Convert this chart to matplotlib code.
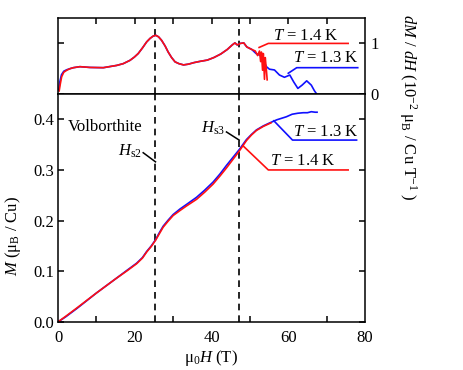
import matplotlib
matplotlib.use('Agg')
import matplotlib.pyplot as plt

plt.rcParams['font.family'] = 'Liberation Serif'
plt.rcParams['mathtext.fontset'] = 'custom'
plt.rcParams['mathtext.rm'] = 'Liberation Serif'
plt.rcParams['mathtext.it'] = 'Liberation Serif:italic'
plt.rcParams['font.size'] = 12

#magnetization curves
h_m13 = [0, 2, 5, 10, 15, 18, 20.5, 22, 23.1, 24.3, 25.4, 26.4, 27.4, 28.7, 30, 31.8,
         33.5, 36.1, 38.2, 40.4, 42.2, 43.9, 45.6, 47.2, 49.1, 50.4, 51.7, 53.5, 55.2,
         57, 59.5, 61, 62.5, 63.9, 65, 66, 67, 67.5]
m13 = [0, 0.010, 0.027, 0.057, 0.085, 0.102, 0.116, 0.127, 0.139, 0.150, 0.162, 0.176,
       0.189, 0.201, 0.212, 0.223, 0.232, 0.246, 0.260, 0.276, 0.292, 0.309, 0.325,
       0.340, 0.360, 0.370, 0.379, 0.387, 0.393, 0.399, 0.405, 0.410, 0.412, 0.413,
       0.413, 0.415, 0.414, 0.414]
h_m14 = [0, 2, 5, 10, 15, 18, 20.5, 22, 23.1, 24.3, 25.4, 26.4, 27.4, 28.7, 30, 31.8,
         33.5, 36.1, 38.2, 40.4, 42.2, 43.9, 45.6, 47.2, 49.1, 50.4, 51.7, 53.5, 55.5]
m14 = [0, 0.011, 0.028, 0.057, 0.085, 0.101, 0.115, 0.126, 0.138, 0.149, 0.161, 0.174,
       0.187, 0.199, 0.210, 0.220, 0.229, 0.242, 0.256, 0.272, 0.288, 0.304, 0.321,
       0.337, 0.358, 0.369, 0.378, 0.386, 0.393]

#dM/dH curves (10^-2 muB / Cu T)
h_d14 = [0.3, 0.6, 0.95, 1.5, 2.3, 3.1, 4, 5.7, 8.3, 11.8, 15.3, 17, 18.75, 19.9, 20.9,
         22, 23.1, 24, 24.8, 25.5, 26.2, 27, 27.9, 28.7, 29.6, 30.5, 31.5, 32.7, 34,
         35.4, 37, 38.9, 40.6, 42.4, 44.1, 45.4, 46.1, 46.7, 47.5, 48.4, 49.2, 50.5,
         51.4, 52, 52.5, 52.8, 53.0, 53.3, 53.5, 53.8, 54.0, 54.3, 54.5]
d14 = [0.06, 0.2, 0.34, 0.43, 0.47, 0.50, 0.52, 0.54, 0.525, 0.52, 0.565, 0.60, 0.665,
       0.73, 0.80, 0.91, 1.03, 1.10, 1.145, 1.16, 1.13, 1.06, 0.95, 0.83, 0.72, 0.635,
       0.6, 0.575, 0.59, 0.62, 0.645, 0.67, 0.72, 0.79, 0.88, 0.97, 1.01, 0.97, 1.0,
       1.01, 0.93, 0.88, 0.85, 0.76, 0.85, 0.64, 0.83, 0.47, 0.8, 0.29, 0.72, 0.47, 0.28]
h_d13 = [0.2, 0.5, 0.9, 1.5, 2.3, 3.1, 4, 5.7, 8.3, 11.8, 15.3, 17, 18.75, 19.9, 20.9,
         22, 23.1, 24, 24.8, 25.5, 26.2, 27, 27.9, 28.7, 29.6, 30.5, 31.5, 32.7, 34,
         35.4, 37, 38.9, 40.6, 42.4, 44.1, 45.4, 46.1, 46.7, 47.5, 48.4, 49.2, 50.5,
         51.6, 53.0, 54.3, 55.1, 56.4, 57.7, 59.0, 60.4, 61.4, 62.5, 63.6, 64.8, 66.0,
         66.8, 67.4]
d13 = [0.08, 0.25, 0.38, 0.45, 0.48, 0.50, 0.52, 0.54, 0.525, 0.52, 0.565, 0.60, 0.665,
       0.73, 0.80, 0.91, 1.03, 1.10, 1.145, 1.16, 1.13, 1.06, 0.95, 0.83, 0.72, 0.635,
       0.6, 0.575, 0.59, 0.62, 0.645, 0.67, 0.72, 0.79, 0.88, 0.97, 1.01, 0.97, 1.0,
       1.01, 0.93, 0.88, 0.80, 0.75, 0.54, 0.49, 0.475, 0.375, 0.33, 0.375, 0.24, 0.11,
       0.175, 0.26, 0.175, 0.065, 0.0]

#critical fields
hs2 = 25.4
hs3 = 47.2

#annotation leader lines
top_lead14 = ([52.4, 54.8, 75.6], [0.92, 1.0, 1.0])
top_lead13 = ([60.0, 62.2, 78.1], [0.41, 0.52, 0.52])
bot_lead13 = ([56.25, 61.1, 77.8], [0.397, 0.359, 0.359])
bot_lead14 = ([48.3, 54.8, 75.6], [0.347, 0.30, 0.30])
hs2_lead = ([22.2, 25.4], [0.334, 0.316])
hs3_lead = ([43.9, 47.2], [0.375, 0.359])

blue = '#1010ff'
red = '#ff1010'

fig = plt.figure(figsize=(4.63, 3.70), dpi=100)
ax1 = fig.add_axes([0.1253, 0.746, 0.6631, 0.205])
ax2 = fig.add_axes([0.1253, 0.130, 0.6631, 0.616])

for ax in (ax1, ax2):
    for s in ax.spines.values():
        s.set_linewidth(1.1)
    ax.set_xlim(0, 80)
    ax.axvline(hs2, color='black', lw=1.2, ls=(0, (4, 3)))
    ax.axvline(hs3, color='black', lw=1.2, ls=(0, (4, 3)))

#top panel: dM/dH
ax1.plot(h_d13, d13, color=blue, lw=1.2)
ax1.plot(h_d14, d14, color=red, lw=1.2)
ax1.plot(*top_lead14, color=red, lw=1.2)
ax1.plot(*top_lead13, color=blue, lw=1.2)
ax1.text(56.0, 1.07, '$T$ = 1.4 K', ha='left', va='baseline')
ax1.text(61.2, 0.64, '$T$ = 1.3 K', ha='left', va='baseline')
ax1.set_ylim(0, 1.5)
ax1.set_yticks([0, 1])
ax1.set_yticklabels(['0', '1'])
ax1.set_xticks(range(10, 80, 10))
ax1.tick_params(axis='x', which='both', direction='in', top=True, bottom=False,
                labelbottom=False, length=4, width=1.1)
ax1.tick_params(axis='y', direction='in', left=True, right=True, labelleft=False,
                labelright=True, length=4, width=1.1, pad=4)

#bottom panel: M
ax2.plot(h_m13, m13, color=blue, lw=1.2)
ax2.plot(h_m14, m14, color=red, lw=1.2)
ax2.plot(*bot_lead13, color=blue, lw=1.2)
ax2.plot(*bot_lead14, color=red, lw=1.2)
ax2.plot(*hs2_lead, color='black', lw=1.1)
ax2.plot(*hs3_lead, color='black', lw=1.1)
ax2.text(61.2, 0.368, '$T$ = 1.3 K', ha='left', va='baseline')
ax2.text(55.2, 0.309, '$T$ = 1.4 K', ha='left', va='baseline')
ax2.text(2.6, 0.384, 'Volborthite', ha='left', va='center')
ax2.text(21.9, 0.336, r'$H_\mathrm{s2}$', ha='right', va='center')
ax2.text(43.5, 0.382, r'$H_\mathrm{s3}$', ha='right', va='center')
ax2.set_ylim(0, 0.45)
ax2.set_yticks([0, 0.1, 0.2, 0.3, 0.4])
ax2.set_yticklabels(['0.0', '0.1', '0.2', '0.3', '0.4'])
ax2.set_xticks([0, 20, 40, 60, 80])
ax2.set_xticks([10, 30, 50, 70], minor=True)
ax2.tick_params(axis='x', which='major', direction='in', length=0, pad=6)
ax2.tick_params(axis='x', which='minor', direction='in', length=4, width=1.1)
ax2.tick_params(axis='y', direction='in', left=True, right=True, length=4,
                width=1.1, pad=3)

fig.text(0.456, 0.032, 'μ$_0$$H$ (T)', ha='center', va='center')
fig.text(0.028, 0.362, '$M$ (μ$_\\mathrm{B}$ / Cu)', ha='center', va='center',
         rotation=90)
fig.text(0.881, 0.711, '$dM$ / $dH$ (10$^{-2}$ μ$_\\mathrm{B}$ / Cu T$^{-1}$ )',
         ha='center', va='center', rotation=-90)

fig.savefig('out.png', dpi=100)
